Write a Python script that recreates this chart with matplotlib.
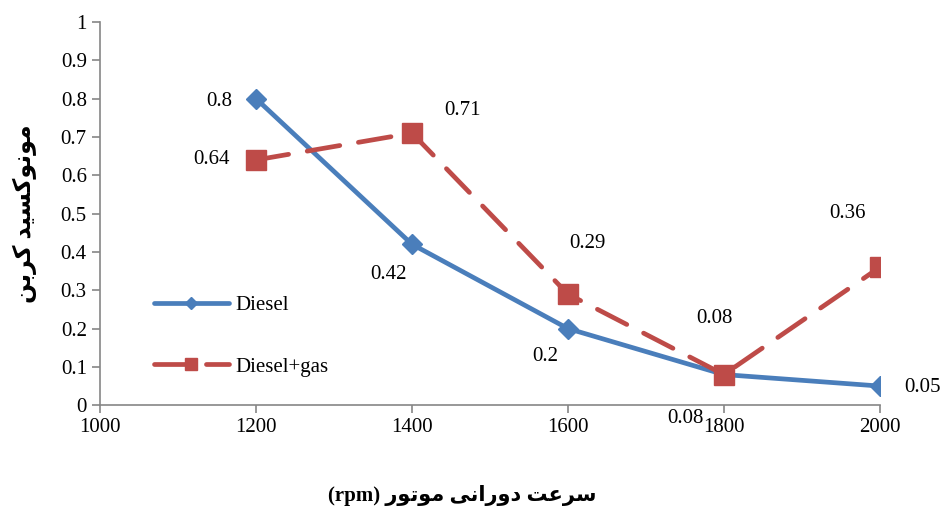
import matplotlib
matplotlib.use("Agg")
import matplotlib.pyplot as plt

rpm = [1200, 1400, 1600, 1800, 2000]
diesel = [0.8, 0.42, 0.2, 0.08, 0.05]
diesel_gas = [0.64, 0.71, 0.29, 0.08, 0.36]

x_ticks = [1000, 1200, 1400, 1600, 1800, 2000]
y_ticks = [0, 0.1, 0.2, 0.3, 0.4, 0.5, 0.6, 0.7, 0.8, 0.9, 1]

x_title = "سرعت دورانی موتور"
y_title = "مونوکسید کربن"

# label offsets in pixels (dx, dy) for each point
diesel_offsets = [(-37, -3), (-23, -30), (-23, -28), (-38, -44), (43, -1)]
gas_offsets = [(-45, 0), (51, 23), (20, 51), (-9, 56), (-32, 54)]

# presentation forms: isolated, final, initial, medial
FORMS = {
    "م": ("\uFEE1", "\uFEE2", "\uFEE3", "\uFEE4"),
    "ن": ("\uFEE5", "\uFEE6", "\uFEE7", "\uFEE8"),
    "ک": ("\uFB8E", "\uFB8F", "\uFB90", "\uFB91"),
    "س": ("\uFEB1", "\uFEB2", "\uFEB3", "\uFEB4"),
    "ی": ("\uFBFC", "\uFBFD", "\uFBFE", "\uFBFF"),
    "ب": ("\uFE8F", "\uFE90", "\uFE91", "\uFE92"),
    "ع": ("\uFEC9", "\uFECA", "\uFECB", "\uFECC"),
    "ت": ("\uFE95", "\uFE96", "\uFE97", "\uFE98"),
    "و": ("\uFEED", "\uFEEE", None, None),
    "د": ("\uFEA9", "\uFEAA", None, None),
    "ر": ("\uFEAD", "\uFEAE", None, None),
    "ا": ("\uFE8D", "\uFE8E", None, None),
}


def shape_word(word):
    out = []
    for i, ch in enumerate(word):
        f = FORMS[ch]
        prev = word[i - 1] if i > 0 else None
        nxt = word[i + 1] if i + 1 < len(word) else None
        join_prev = prev is not None and FORMS[prev][2] is not None
        join_next = nxt is not None and f[2] is not None
        if join_prev and join_next:
            out.append(f[3])
        elif join_prev:
            out.append(f[1])
        elif join_next:
            out.append(f[2])
        else:
            out.append(f[0])
    return "".join(out)


def rtl(text):
    words = [shape_word(w) for w in text.split(" ")]
    return " ".join(w[::-1] for w in reversed(words))


plt.rcParams["font.family"] = ["Liberation Serif", "DejaVu Sans"]
plt.rcParams["font.size"] = 15

fig = plt.figure(figsize=(9.44, 5.11), dpi=100)
ax = fig.add_axes([0.106, 0.207, 0.826, 0.75])

blue = "#4A7EBB"
red = "#BE4B48"

ax.plot(rpm, diesel, color=blue, lw=3.4, marker="D", ms=10,
        label="Diesel", solid_capstyle="round")
ax.plot(rpm, diesel_gas, color=red, lw=3.4, marker="s", ms=14,
        dashes=(7, 4), dash_capstyle="round", label="Diesel+gas")

for xv, yv, off in zip(rpm, diesel, diesel_offsets):
    ax.annotate(f"{yv:g}", (xv, yv), xytext=off, textcoords="offset pixels",
                ha="center", va="center", fontsize=15)
for xv, yv, off in zip(rpm, diesel_gas, gas_offsets):
    ax.annotate(f"{yv:g}", (xv, yv), xytext=off, textcoords="offset pixels",
                ha="center", va="center", fontsize=15)

ax.set_xlim(1000, 2000)
ax.set_ylim(0, 1)
ax.set_xticks(x_ticks)
ax.set_yticks(y_ticks)
ax.set_yticklabels([f"{v:g}" for v in y_ticks])

for side in ["top", "right"]:
    ax.spines[side].set_visible(False)
for side in ["left", "bottom"]:
    ax.spines[side].set_color("#868686")
    ax.spines[side].set_linewidth(1.2)
ax.tick_params(axis="both", direction="out", color="#868686", length=6,
               width=1.2, labelsize=15)

ax.set_ylabel(rtl(y_title), family=["Liberation Serif", "DejaVu Sans"],
              fontweight="bold", fontsize=17, labelpad=17)
fig.text(0.49, 0.03, "(rpm) " + rtl(x_title),
         ha="center", va="center", family=["Liberation Serif", "DejaVu Sans"],
         fontweight="bold", fontsize=15)

ax.legend(loc="center left", bbox_to_anchor=(0.045, 0.18), frameon=False,
          handlelength=3.6, labelspacing=2.0, fontsize=15, handletextpad=0.3,
          markerscale=0.6)

fig.savefig("out.png", dpi=100)
